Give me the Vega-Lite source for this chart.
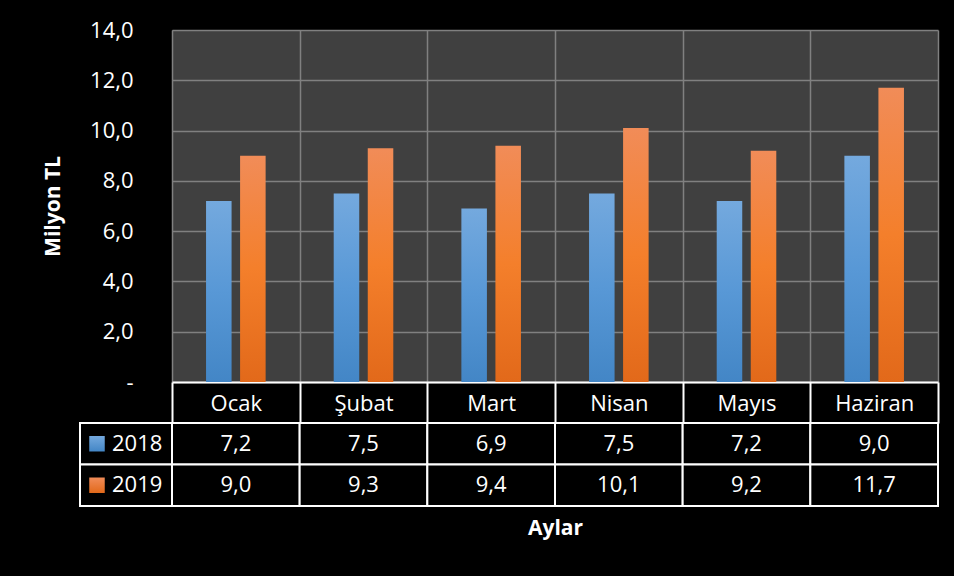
{
  "$schema": "https://vega.github.io/schema/vega-lite/v6.json",
  "background": "black",
  "padding": {"left": 42, "top": 19, "right": 15, "bottom": 38},
  "config": {
    "locale": {"number": {"decimal": ",", "thousands": ".", "grouping": [3], "currency": ["", " TL"]}},
    "font": "Open Sans",
    "view": {"stroke": null},
    "axis": {"labelFont": "Open Sans", "titleFont": "Open Sans"},
    "text": {"font": "Open Sans"}
  },
  "data": {
    "values": [
      {"month": "Ocak", "year": "2018", "value": 7.2},
      {"month": "Şubat", "year": "2018", "value": 7.5},
      {"month": "Mart", "year": "2018", "value": 6.9},
      {"month": "Nisan", "year": "2018", "value": 7.5},
      {"month": "Mayıs", "year": "2018", "value": 7.2},
      {"month": "Haziran", "year": "2018", "value": 9.0},
      {"month": "Ocak", "year": "2019", "value": 9.0},
      {"month": "Şubat", "year": "2019", "value": 9.3},
      {"month": "Mart", "year": "2019", "value": 9.4},
      {"month": "Nisan", "year": "2019", "value": 10.1},
      {"month": "Mayıs", "year": "2019", "value": 9.2},
      {"month": "Haziran", "year": "2019", "value": 11.7}
    ]
  },
  "columns": 2,
  "spacing": {"row": 41, "column": 0},
  "bounds": "flush",
  "concat": [
    {
      "width": 92,
      "height": 352,
      "data": {"values": []},
      "mark": "rect",
      "encoding": {}
    },
    {
      "width": 766,
      "height": 352,
      "view": {"fill": "#404040", "stroke": null},
      "mark": {"type": "bar"},
      "encoding": {
        "x": {
          "field": "month", "type": "nominal",
          "sort": ["Ocak", "Şubat", "Mart", "Nisan", "Mayıs", "Haziran"],
          "scale": {"paddingInner": 0, "paddingOuter": 0},
          "axis": {
            "title": null, "labelAngle": 0, "labelColor": "white", "labelFontSize": 22,
            "labelBaseline": "middle", "labelPadding": -20,
            "tickBand": "extent", "tickSize": 41, "tickColor": "white", "tickWidth": 2,
            "domainColor": "white", "domainWidth": 2,
            "grid": true, "gridColor": "#808080", "gridWidth": 1.5
          }
        },
        "xOffset": {
          "field": "year", "type": "nominal",
          "scale": {"paddingInner": 0.25, "paddingOuter": 1.12}
        },
        "y": {
          "field": "value", "type": "quantitative",
          "scale": {"domain": [0, 14], "nice": false},
          "axis": {
            "title": "Milyon TL", "titleColor": "white", "titleFontSize": 21, "titleFontWeight": "bold",
            "titlePadding": 26,
            "values": [0, 2, 4, 6, 8, 10, 12, 14], "format": ".1f",
            "labelExpr": "datum.value == 0 ? '-\u00a0\u00a0' : datum.label",
            "labelColor": "white", "labelFontSize": 22, "labelPadding": 39,
            "ticks": false, "tickSize": 0, "domain": false,
            "gridColor": "#808080", "gridWidth": 1.5
          }
        },
        "fill": {
          "condition": {
            "test": "datum.year == '2018'",
            "value": {"gradient": "linear", "x1": 0, "y1": 0, "x2": 0, "y2": 1,
              "stops": [{"offset": 0, "color": "#74a9de"}, {"offset": 0.5, "color": "#5898d6"}, {"offset": 1, "color": "#4386c6"}]}
          },
          "value": {"gradient": "linear", "x1": 0, "y1": 0, "x2": 0, "y2": 1,
            "stops": [{"offset": 0, "color": "#f18c58"}, {"offset": 0.5, "color": "#f47f2b"}, {"offset": 1, "color": "#e2691a"}]}
        }
      }
    },
    {
      "width": 92,
      "height": 83,
      "transform": [{"aggregate": [{"op": "count", "as": "n"}], "groupby": ["year"]}],
      "encoding": {
        "y": {"field": "year", "type": "nominal", "scale": {"domain": ["2018", "2019"], "paddingInner": 0, "paddingOuter": 0}, "axis": null}
      },
      "layer": [
        {"mark": {"type": "rect", "fill": "black", "stroke": "white", "strokeWidth": 2}},
        {
          "mark": {"type": "point", "shape": "square", "filled": true, "size": 240, "xOffset": -29, "opacity": 1, "strokeWidth": 0},
          "encoding": {
            "fill": {
              "condition": {
                "test": "datum.year == '2018'",
                "value": {"gradient": "linear", "x1": 0, "y1": 0, "x2": 0, "y2": 1,
                  "stops": [{"offset": 0, "color": "#74a9de"}, {"offset": 1, "color": "#4386c6"}]}
              },
              "value": {"gradient": "linear", "x1": 0, "y1": 0, "x2": 0, "y2": 1,
                "stops": [{"offset": 0, "color": "#f18c58"}, {"offset": 1, "color": "#e2691a"}]}
            }
          }
        },
        {
          "mark": {"type": "text", "align": "left", "dx": -14, "fill": "white", "fontSize": 22, "fontWeight": "normal"},
          "encoding": {"text": {"field": "year", "type": "nominal"}}
        }
      ]
    },
    {
      "width": 766,
      "height": 83,
      "encoding": {
        "x": {
          "field": "month", "type": "nominal",
          "sort": ["Ocak", "Şubat", "Mart", "Nisan", "Mayıs", "Haziran"],
          "scale": {"paddingInner": 0, "paddingOuter": 0},
          "axis": {
            "orient": "bottom", "title": "Aylar", "labels": false, "ticks": false, "domain": false, "grid": false,
            "titleColor": "white", "titleFontSize": 21, "titleFontWeight": "bold", "titlePadding": 11
          }
        },
        "y": {"field": "year", "type": "nominal", "scale": {"domain": ["2018", "2019"], "paddingInner": 0, "paddingOuter": 0}, "axis": null}
      },
      "layer": [
        {"mark": {"type": "rect", "fill": "black", "stroke": "white", "strokeWidth": 2}},
        {
          "mark": {"type": "text", "fill": "white", "fontSize": 22, "fontWeight": "normal"},
          "encoding": {"text": {"field": "value", "type": "quantitative", "format": ".1f"}}
        }
      ]
    }
  ]
}
